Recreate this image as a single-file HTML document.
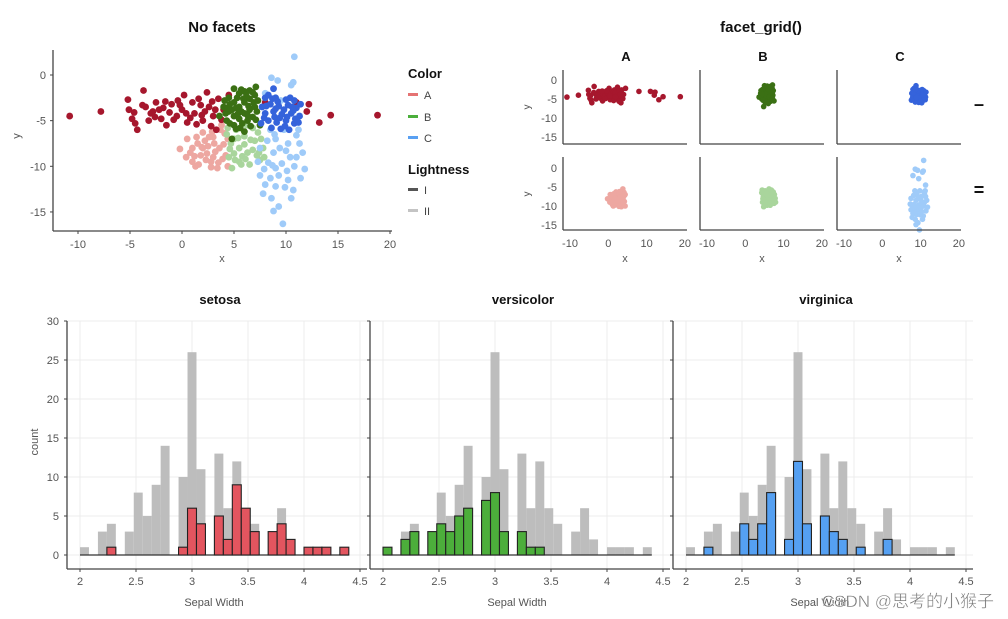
<!DOCTYPE html>
<html><head><meta charset="utf-8"><style>
html,body{margin:0;padding:0;background:#fff;width:1008px;height:619px;overflow:hidden}
svg{display:block;font-family:"Liberation Sans",Arial,sans-serif}
</style></head><body>
<svg id="c" width="1008" height="619"></svg>
<script>
// ---- data ----
const A1=[[-10.8,-4.5],[-7.8,-4],[-5.2,-2.7],[-5.1,-3.8],[-4.8,-4.8],[-4.5,-5.3],[-4.3,-6],[-3.7,-1.7],[-3.5,-3.5],[-3,-4.2],[-2.5,-3],[-2,-4.8],[-1.8,-3.6],[-1.5,-5.5],[-1,-3.2],[-0.5,-4.5],[0,-3.8],[0.2,-2.2],[0.5,-5.2],[1,-3],[1.2,-4.2],[1.6,-2.6],[2,-5],[2.4,-1.9],[2.6,-3.5],[3,-4.5],[3.3,-6],[3.5,-2.6],[4,-3.8],[4.5,-2.2],[-2.8,-4],[-1.2,-4.1],[0.8,-4.7],[2.2,-4],[-3.8,-3.3],[-4.6,-4.1],[12.2,-3.2],[12,-4],[13.2,-5.2],[14.3,-4.4],[18.8,-4.4],[8,-3],[11,-3],[1.8,-3.3],[-0.2,-3.3],[3.8,-4.9],[-2.2,-3.8],[-0.8,-4.9],[1.4,-5.4],[2.9,-2.9],[-3.2,-5],[-1.6,-2.9],[0.4,-4.2],[1.9,-4.4],[3.2,-3.8],[-2.6,-4.6],[-0.4,-2.8],[2.8,-5.6]];
const B1=[[5,-1.5],[5.5,-2],[6,-1.8],[6.5,-1.7],[7.1,-1.3],[4.5,-2.5],[5,-3],[5.5,-3.5],[6,-3],[6.5,-2.6],[7,-2.2],[4,-3.5],[4.5,-4],[5,-4.5],[5.5,-4.8],[6,-4.2],[6.5,-3.8],[7,-3.5],[3.6,-4.5],[4.3,-5],[5,-5.5],[5.8,-5.3],[6.3,-5],[6.8,-4.6],[7.2,-4],[4.8,-3.8],[5.3,-2.5],[6.2,-2.3],[5.7,-4],[4.2,-4.2],[6.6,-5.6],[7.5,-5.5],[5.2,-5.9],[6,-6.2],[4.8,-7],[5.4,-4.2],[6.4,-3.4],[4.6,-3.2],[5.9,-2.6],[6.9,-3],[4.1,-2.8],[5.2,-3.6],[6.3,-4.4],[7.3,-2.8],[4.6,-5.3],[5.7,-1.6],[6.8,-1.9],[4.4,-3.6],[5.6,-5.8],[7.1,-4.9]];
const C1=[[8.8,-1.5],[8,-2.5],[9,-2.5],[10,-2.7],[10.8,-2.8],[7.7,-3.5],[8.5,-3.2],[9.3,-3.4],[10.2,-3.3],[11,-3.6],[8,-4.2],[8.8,-4],[9.6,-4.3],[10.5,-4.2],[11.3,-4.5],[8.3,-5],[9.1,-5.2],[10,-5],[10.8,-5.3],[11.2,-5.2],[8.6,-5.8],[9.5,-5.9],[7.6,-5.3],[9.8,-3.8],[10.6,-3.5],[8.3,-2.2],[9.4,-4.7],[10.3,-6],[9,-3.7],[10.1,-4.6],[8.1,-3.4],[9.2,-2.9],[10.4,-2.5],[11.4,-3.2],[7.9,-4.7],[8.9,-4.6],[10.9,-4.8],[9.9,-5.6],[8.7,-2.6],[10.7,-3.9]];
const A2=[[0.5,-7],[-0.2,-8.1],[0.8,-8.5],[1,-9.5],[1.3,-10],[1.5,-7.5],[1.8,-8.8],[2,-6.3],[2.3,-9.3],[2.5,-7.8],[2.8,-10.1],[3,-6.8],[3.2,-8.4],[3.5,-9.6],[3.7,-6],[4,-7.6],[4.2,-8.8],[4.4,-10],[2,-8],[1,-8],[3,-9],[3.8,-5.5],[2.6,-6.8],[1.6,-9.8],[4.4,-7],[3.4,-10.2],[2.2,-7.2],[3.6,-8],[1.2,-8.9],[2.8,-9.5],[0.4,-9],[1.9,-7.9],[3.1,-7.5],[4.1,-6.4],[2.4,-8.6],[3.9,-9.2],[1.4,-6.8],[2.9,-6.2]];
const B2=[[4.3,-6.5],[4.7,-7.5],[4.5,-9],[4.8,-10.2],[5.2,-6],[5.5,-8],[5.5,-9.5],[6,-6.7],[6.3,-8.5],[6.5,-9.8],[6.8,-5.8],[7,-7.2],[7.2,-8.8],[7.5,-9.3],[7.6,-7],[5,-8.6],[6,-7.6],[7.8,-8],[6.2,-5.5],[5.7,-9.8],[5,-7],[6.8,-8.2],[5.8,-8.9],[7.3,-6.3],[4.6,-8.1],[5.4,-6.9],[6.6,-7.1],[7.4,-8.5],[6.1,-9.2],[5.1,-9.3],[4.4,-5.8],[7.9,-9]];
const C2=[[10.8,2],[8.6,-0.3],[9.2,-0.6],[10.7,-0.8],[10.5,-1.1],[8,-2],[9.5,-2.8],[11.3,-4.5],[8.5,-6],[11,-6.6],[9,-7],[10.2,-7.5],[11.3,-7.5],[7.5,-8],[8.8,-8.5],[10,-8.3],[11,-9],[7.3,-9.5],[8.3,-9.6],[9.6,-9.7],[10.8,-10],[11.8,-10.3],[7.5,-11],[8.5,-11.3],[9.3,-11],[10.2,-11.5],[11.4,-11.3],[8,-12],[9,-12.2],[10.7,-12.6],[7.8,-13],[8.6,-13.5],[9.3,-14.4],[8.8,-14.9],[9.7,-16.3],[9,-10.2],[10.4,-9],[8.2,-7.2],[9.8,-6],[11.6,-8.5],[7.9,-10.3],[10.5,-13.5],[9.4,-8],[10.1,-10.5],[8.7,-9.9],[9.9,-12.3],[11.2,-6],[8.9,-6.5]];
const binStart=2, binWidth=0.08;
const allCounts=[1,0,3,4,0,3,8,5,9,14,0,10,26,11,0,13,6,12,6,4,0,3,6,2,0,1,1,1,0,1];
const setosaCounts=[0,0,0,1,0,0,0,0,0,0,0,1,6,4,0,5,2,9,6,3,0,3,4,2,0,1,1,1,0,1];
const versicolorCounts=[1,0,2,3,0,3,4,3,5,6,0,7,8,3,0,3,1,1,0,0,0,0,0,0,0,0,0,0,0,0];
const virginicaCounts=[0,0,1,0,0,0,4,2,4,8,0,2,12,4,0,5,3,2,0,1,0,0,2,0,0,0,0,0,0,0];
const histXTicks=[2,2.5,3,3.5,4,4.5];
const histXLabels=['2','2.5','3','3.5','4','4.5'];
const histYTicks=[0,5,10,15,20,25,30];
const scatXTicks=[-10,-5,0,5,10,15,20];
const scatYTicks=[0,-5,-10,-15];
const facetXTicks=[-10,0,10,20];

const NS='http://www.w3.org/2000/svg';
const svg=document.getElementById('c');
function el(tag,attrs,parent,txt){const e=document.createElementNS(NS,tag);for(const k in attrs)e.setAttribute(k,attrs[k]);if(txt!==undefined)e.textContent=txt;(parent||svg).appendChild(e);return e;}
function txt(x,y,s,size,fill,anchor,weight,parent){return el('text',{x:x,y:y,'font-size':size,fill:fill,'text-anchor':anchor||'middle','font-weight':weight||'normal'},parent,s);}
const cols={A1:'#a6172d',B1:'#3b7014',C1:'#3563db',A2:'#eda7a1',B2:'#a9d59c',C2:'#9fcbf9'};

// ---- top-left scatter ----
{
const g=el('g',{});


const sx=v=>78+(v+10)*10.4, sy=v=>75-v*9.13;
let t=txt(222,32,'No facets',15,'#111','middle','bold',g);

const groups=[['A2',A2],['B2',B2],['C2',C2],['A1',A1],['B1',B1],['C1',C1]];
groups.forEach(([k,arr])=>{arr.forEach(p=>{const c=el('circle',{cx:sx(p[0]),cy:sy(p[1]),r:3.4,fill:cols[k]},g);

});});
el('line',{x1:53,y1:50,x2:53,y2:231,stroke:'#444','stroke-width':1.3},g);
el('line',{x1:53,y1:231,x2:392,y2:231,stroke:'#444','stroke-width':1.3},g);
scatXTicks.forEach(v=>{el('line',{x1:sx(v),y1:231,x2:sx(v),y2:234,stroke:'#444'},g);txt(sx(v),248,String(v),11,'#555','middle','normal',g);});
scatYTicks.forEach(v=>{el('line',{x1:50,y1:sy(v),x2:53,y2:sy(v),stroke:'#444'},g);txt(46,sy(v)+4,String(v),11,'#555','end','normal',g);});
let xl=txt(222,262,'x',11,'#555','middle','normal',g);
let yl=el('text',{x:0,y:0,'font-size':11,fill:'#555','text-anchor':'middle',transform:'translate(20,136) rotate(-90)'},g,'y');

const lg=el('g',{},g);
txt(408,78,'Color',13,'#111','start','bold',lg);
[['A','#e57373',99],['B','#4caf3c',121],['C','#59a0f2',142]].forEach(([n,c,y])=>{const r=el('rect',{x:408,y:y-6,width:10,height:3,fill:c},lg);txt(424,y,n,11,'#444','start','normal',lg);});
txt(408,174,'Lightness',13,'#111','start','bold',lg);
[['I','#555',194],['II','#c4c4c4',215]].forEach(([n,c,y])=>{const r=el('rect',{x:408,y:y-6,width:10,height:3,fill:c},lg);txt(424,y,n,11,'#444','start','normal',lg);});
}

// ---- top-right facet grid ----
{
const g=el('g',{});


let t=txt(761,32,'facet_grid()',15,'#111','middle','bold',g);

const data=[[A1,B1,C1],[A2,B2,C2]], keys=[['A1','B1','C1'],['A2','B2','C2']];
['A','B','C'].forEach((n,k)=>{const s=txt(626+k*137,61,n,13,'#111','middle','bold',g);});
['–','='].forEach((n,r)=>{const s=txt(979,110+r*86,n,18,'#111','middle','bold',g);});
for(let r=0;r<2;r++){for(let k=0;k<3;k++){
 const x0=563+k*137, top=70+r*87, bot=144+r*86;
 const sx=v=>x0+7+(v+10)*3.83, sy=v=>(80+r*88)-v*3.8;
 const pg=el('g',{},g);
 data[r][k].forEach(p=>{const c=el('circle',{cx:sx(p[0]),cy:sy(p[1]),r:2.8,fill:cols[keys[r][k]]},pg);
 
 });
 el('line',{x1:x0,y1:top,x2:x0,y2:bot,stroke:'#444','stroke-width':1.3},pg);
 el('line',{x1:x0,y1:bot,x2:x0+124,y2:bot,stroke:'#444','stroke-width':1.3},pg);
 if(k===0){scatYTicks.forEach(v=>txt(557,sy(v)+4,String(v),11,'#555','end','normal',pg));
  el('text',{x:0,y:0,'font-size':10,fill:'#555','text-anchor':'middle',transform:'translate(530,'+(top+37)+') rotate(-90)'},pg,'y');}
 if(r===1){facetXTicks.forEach(v=>txt(sx(v),247,String(v),11,'#555','middle','normal',pg));txt(x0+62,262,'x',11,'#555','middle','normal',pg);}
}}
}

// ---- bottom histograms ----
{
const panels=[['setosa',setosaCounts,'#e3555f'],['versicolor',versicolorCounts,'#4cae3b'],['virginica',virginicaCounts,'#55a0f2']];
const yS=c=>555-c*7.8;
panels.forEach(([name,counts,color],k)=>{
 const g=el('g',{});
 
 
 const off=k*303, xS=v=>80+off+(v-2)*112, ax=67+off, axr=367+off;
 const tt=txt(80+off+140,304,name,13,'#111','middle','bold',g);
 
 histXTicks.forEach(v=>el('line',{x1:xS(v),y1:321,x2:xS(v),y2:569,stroke:'#ececec'},g));
 histYTicks.forEach(v=>el('line',{x1:ax,y1:yS(v),x2:axr,y2:yS(v),stroke:'#ececec'},g));
 allCounts.forEach((c,i)=>{if(!c)return;const x=xS(binStart+i*binWidth);const b=el('rect',{x:x,y:yS(c),width:binWidth*112,height:c*7.8,fill:'#bdbdbd'},g);
 
 });
 el('line',{x1:xS(2),y1:yS(0),x2:xS(2+30*binWidth),y2:yS(0),stroke:'#333','stroke-width':1.2},g);
 counts.forEach((c,i)=>{if(!c)return;const x=xS(binStart+i*binWidth);const b=el('rect',{x:x,y:yS(c),width:binWidth*112,height:c*7.8,fill:color,stroke:'#222','stroke-width':1.1},g);
 
 });
 el('line',{x1:ax,y1:321,x2:ax,y2:569,stroke:'#444','stroke-width':1.3},g);
 el('line',{x1:ax,y1:569,x2:axr,y2:569,stroke:'#444','stroke-width':1.3},g);
 histYTicks.forEach(v=>{el('line',{x1:ax-3,y1:yS(v),x2:ax,y2:yS(v),stroke:'#444'},g);if(k===0)txt(ax-8,yS(v)+4,String(v),11,'#555','end','normal',g);});
 histXTicks.forEach((v,i)=>{el('line',{x1:xS(v),y1:569,x2:xS(v),y2:572,stroke:'#444'},g);txt(xS(v),585,histXLabels[i],11,'#555','middle','normal',g);});
 const xl=txt(80+off+134,606,'Sepal Width',11,'#555','middle','normal',g);
 
});
const yl=el('text',{x:0,y:0,'font-size':11,fill:'#555','text-anchor':'middle',transform:'translate(38,442) rotate(-90)'},svg,'count');

}
const wm=el('text',{x:994,y:607,'font-size':17,fill:'#777','text-anchor':'end',stroke:'#fff','stroke-width':0.4,'font-family':'"Liberation Sans","Noto Sans CJK SC",sans-serif'},svg,'CSDN @思考的小猴子');

</script>
</body></html>
